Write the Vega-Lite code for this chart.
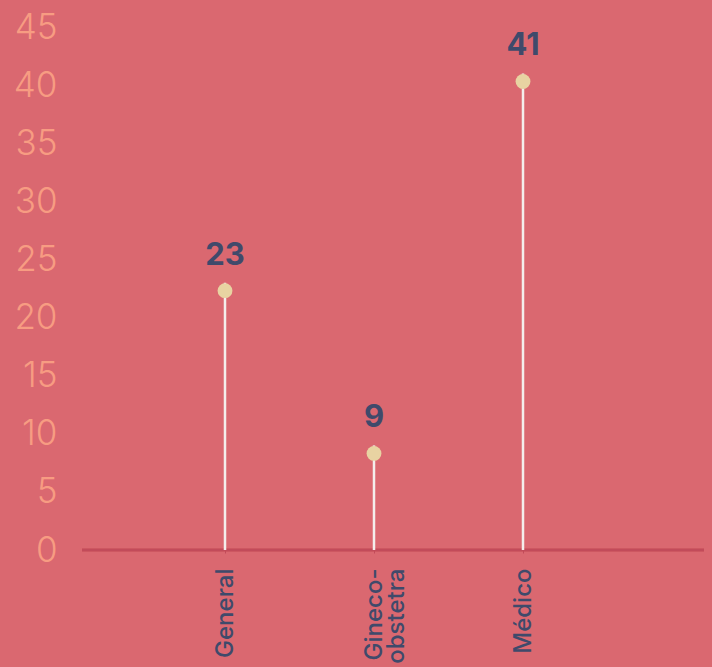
{
  "$schema": "https://vega.github.io/schema/vega-lite/v6.json",
  "width": 622,
  "height": 523,
  "autosize": {"type": "none"},
  "padding": {"left": 82, "top": 27, "right": 8, "bottom": 117},
  "background": "#DA6870",
  "config": {"view": {"stroke": null}, "font": "Inter"},
  "data": {
    "values": [
      {"categoria": "General", "valor": 23},
      {"categoria": "Gineco-obstetra", "valor": 9},
      {"categoria": "Médico", "valor": 41}
    ]
  },
  "encoding": {
    "x": {
      "field": "categoria",
      "type": "nominal",
      "sort": null,
      "scale": {"type": "point", "range": [143, 441], "padding": 0},
      "axis": {
        "title": null,
        "domain": false,
        "tickColor": "#C24B5A",
        "tickSize": 3,
        "labelAngle": 270,
        "labelAlign": "right",
        "labelBaseline": "middle",
        "labelPadding": 15,
        "labelFont": "Inter",
        "labelFontSize": 24,
        "labelFontWeight": 500,
        "labelColor": "#3F4A6B",
        "labelLineHeight": 22,
        "labelExpr": "datum.label == 'Gineco-obstetra' ? ['Gineco-', 'obstetra'] : datum.label"
      }
    }
  },
  "layer": [
    {
      "mark": {"type": "rule", "color": "#C24B5A", "strokeWidth": 2.5},
      "encoding": {
        "x": null,
        "y": {"datum": 0, "type": "quantitative"}
      }
    },
    {
      "mark": {"type": "rule", "color": "#F4EEEC", "strokeWidth": 2.5},
      "encoding": {
        "y": {
          "field": "valor",
          "type": "quantitative",
          "scale": {"domain": [0, 45], "nice": false},
          "axis": {
            "title": null,
            "values": [0, 5, 10, 15, 20, 25, 30, 35, 40, 45],
            "grid": false,
            "domain": false,
            "ticks": false,
            "labelPadding": 25,
            "labelFont": "Inter",
            "labelFontSize": 35,
            "labelFontWeight": 300,
            "labelColor": "#F79C82",
            "labelBaseline": "middle"
          }
        },
        "y2": {"datum": 0}
      }
    },
    {
      "mark": {"type": "point", "filled": true, "opacity": 1, "color": "#E8D3A2", "size": 220, "yOffset": 8},
      "encoding": {
        "y": {"field": "valor", "type": "quantitative"}
      }
    },
    {
      "mark": {"type": "text", "baseline": "alphabetic", "dy": -18, "font": "Inter", "fontSize": 31, "fontWeight": "bold", "color": "#3F4A6B"},
      "encoding": {
        "y": {"field": "valor", "type": "quantitative"},
        "text": {"field": "valor", "type": "quantitative"}
      }
    }
  ]
}
